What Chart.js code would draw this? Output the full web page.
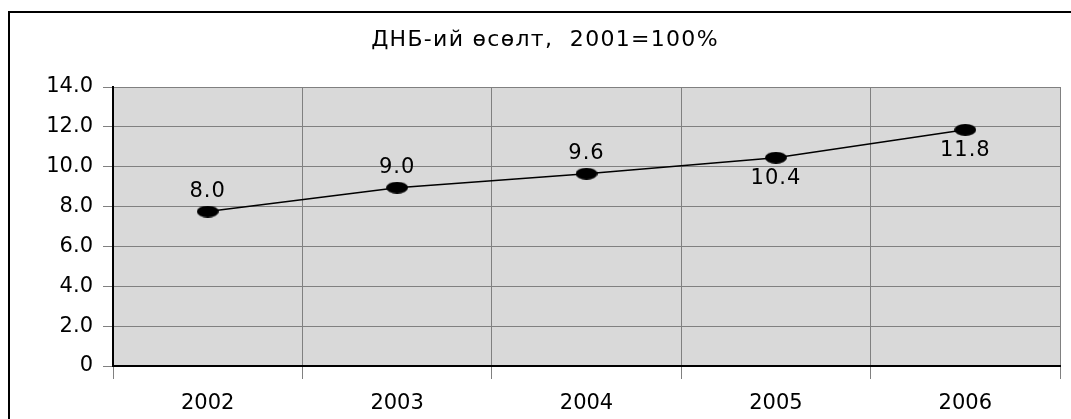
<!DOCTYPE html>
<html>
<head>
<meta charset="utf-8">
<script src="https://cdn.jsdelivr.net/npm/chart.js@4"></script>
<style>
    body { margin: 0; background: #fff; overflow: hidden; }
    #frame {
        position: absolute; left: 8px; top: 11px;
        width: 2000px; height: 1000px;
        border: 2px solid #000;
    }
    #wrap { position: absolute; left: 0; top: 0; width: 1071px; height: 419px; }
</style>
</head>
<body>
<div id="frame"></div>
<div id="wrap"><canvas id="myChart"></canvas></div>
<script>
const chartTitle = 'ДНБ-ий өсөлт,  2001=100%';
const years = ['2002', '2003', '2004', '2005', '2006'];
const growth = [7.75, 8.95, 9.65, 10.45, 11.85];
const growthLabels = ['8.0', '9.0', '9.6', '10.4', '11.8'];
const labelAbove = [true, true, true, false, false];
const yTicks = [0, 2, 4, 6, 8, 10, 12, 14];

const FONT = '"DejaVu Sans", sans-serif';

// elliptical marker like the original
const makeMarker = () => {
    const c = document.createElement('canvas');
    c.width = 22;
    c.height = 12;
    const g = c.getContext('2d');
    g.fillStyle = '#000';
    g.beginPath();
    g.ellipse(11, 6, 11, 6, 0, 0, Math.PI * 2);
    g.fill();
    return c;
};

const plotBackground = {
    id: 'plotBackground',
    beforeDraw: (chart) => {
        const { ctx, chartArea: a } = chart;
        ctx.save();
        ctx.fillStyle = '#d9d9d9';
        ctx.fillRect(a.left, a.top, a.right - a.left, a.bottom - a.top);
        ctx.restore();
    }
};

// title + value labels drawn by hand so they can sit where the original has them
const textLayer = {
    id: 'textLayer',
    afterDatasetsDraw: (chart) => {
        const { ctx } = chart;
        const meta = chart.getDatasetMeta(0);
        ctx.save();
        ctx.fillStyle = '#000';
        ctx.textAlign = 'center';
        ctx.textBaseline = 'middle';

        ctx.font = '22px ' + FONT;
        ctx.letterSpacing = '1.3px';
        ctx.fillText(chartTitle, 545, 40);

        ctx.letterSpacing = '1px';
        ctx.font = '21px ' + FONT;
        meta.data.forEach((pt, i) => {
            const dy = labelAbove[i] ? -20 : 21;
            ctx.fillText(growthLabels[i], pt.x, pt.y + dy);
        });
        ctx.restore();
    }
};

const ctx = document.getElementById('myChart').getContext('2d');

new Chart(ctx, {
    type: 'line',
    data: {
        labels: years,
        datasets: [{
            data: growth,
            borderColor: '#000',
            borderWidth: 1.5,
            pointStyle: makeMarker(),
            tension: 0
        }]
    },
    options: {
        responsive: true,
        maintainAspectRatio: false,
        animation: false,
        layout: { padding: { left: 0, right: 11, top: 87, bottom: 0 } },
        plugins: {
            legend: { display: false },
            tooltip: { enabled: false },
            title: { display: false }
        },
        scales: {
            x: {
                offset: true,
                grid: {
                    offset: true,
                    color: '#808080',
                    lineWidth: 1,
                    tickLength: 13,
                    drawTicks: true
                },
                border: { color: '#000', width: 2 },
                ticks: {
                    color: '#000',
                    padding: 12,
                    maxRotation: 0,
                    font: { family: FONT, size: 21 }
                },
                afterFit: (scale) => { scale.height = 53; }
            },
            y: {
                min: 0,
                max: 14,
                afterBuildTicks: (scale) => {
                    scale.ticks = yTicks.map((v) => ({ value: v }));
                },
                grid: {
                    color: '#808080',
                    lineWidth: 1,
                    tickLength: 10
                },
                border: { color: '#000', width: 2 },
                ticks: {
                    color: '#000',
                    padding: 10,
                    font: { family: FONT, size: 21 },
                    callback: (v) => (v === 0 ? '0' : v.toFixed(1))
                },
                afterFit: (scale) => { scale.width = 113; }
            }
        }
    },
    plugins: [plotBackground, textLayer]
});
</script>
</body>
</html>
